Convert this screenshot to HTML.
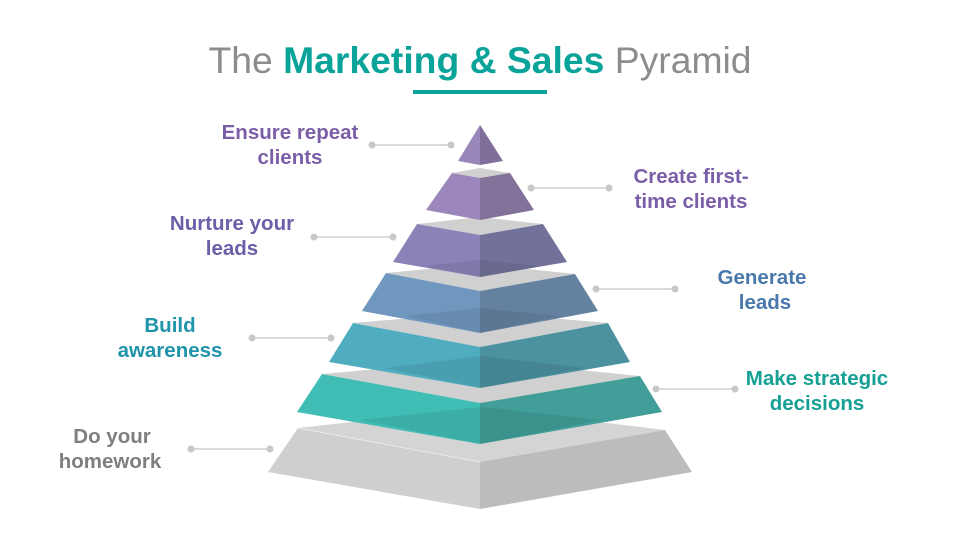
<!DOCTYPE html>
<html><head><meta charset="utf-8"><style>
html,body{margin:0;padding:0;background:#fff;width:960px;height:540px;overflow:hidden}
svg{display:block}
text{font-family:"Liberation Sans",Arial,sans-serif}
.l{font-size:20.5px;font-weight:bold;text-anchor:middle}
</style></head><body>
<svg width="960" height="540" viewBox="0 0 960 540">
<text x="480" y="73" text-anchor="middle" font-size="37.3" fill="#8c8c8c">The <tspan fill="#0aa39a" font-weight="bold">Marketing &amp; Sales</tspan> Pyramid</text>
<rect x="413" y="90" width="134" height="4" fill="#0aa39a"/>

<polygon points="298,428 480,408 665,430 480,462" fill="#d4d4d4"/>
<polygon points="298,428 480,462 480,509 268,472" fill="#cfcfcf"/>
<polygon points="480,462 665,430 692,472 480,509" fill="#bcbcbc"/>
<line x1="298" y1="428" x2="480" y2="462" stroke="#eee" stroke-width="0.8"/>
<polygon points="322,374 480,360 640,376 480,403" fill="#d0d0d0"/>
<polygon points="322,374 480,403 480,444 297,412" fill="#40bdb5"/>
<polygon points="480,403 640,376 662,412 480,444" fill="#419e98"/>
<polygon points="360,420 480,407 600,420 480,444" fill="#000" opacity="0.08"/>
<polygon points="353,323 480,312 608,323 480,347" fill="#d0d0d0"/>
<polygon points="353,323 480,347 480,388 329,362" fill="#50adbf"/>
<polygon points="480,347 608,323 630,362 480,388" fill="#4b91a0"/>
<polygon points="385,368 480,356 585,368 480,388" fill="#000" opacity="0.08"/>
<polygon points="386,273 480,264 575,274 480,291" fill="#d0d0d0"/>
<polygon points="386,273 480,291 480,333 362,311" fill="#7098bf"/>
<polygon points="480,291 575,274 598,311 480,333" fill="#6482a0"/>
<polygon points="405,316 480,308 560,316 480,333" fill="#000" opacity="0.08"/>
<polygon points="417,224 480,217 543,224 480,235" fill="#d0d0d0"/>
<polygon points="417,224 480,235 480,277 393,262" fill="#8a83b8"/>
<polygon points="480,235 543,224 567,262 480,277" fill="#72719a"/>
<polygon points="425,266 480,260 540,266 480,277" fill="#000" opacity="0.08"/>
<polygon points="452,173 480,168 510,173 480,178" fill="#d0d0d0"/>
<polygon points="452,173 480,178 480,220 426,210" fill="#9b87bb"/>
<polygon points="480,178 510,173 534,210 480,220" fill="#82729a"/>
<polygon points="480,125 480,165 458,161" fill="#9a87b9"/>
<polygon points="480,125 503,161 480,165" fill="#7f6d9a"/>

<g stroke="#cfcfcf" stroke-width="1.5" fill="#c8c8c8">
<line x1="372" y1="145" x2="451" y2="145"/><circle cx="372" cy="145" r="3.5" stroke="none"/><circle cx="451" cy="145" r="3.5" stroke="none"/>
<line x1="531" y1="188" x2="609" y2="188"/><circle cx="531" cy="188" r="3.5" stroke="none"/><circle cx="609" cy="188" r="3.5" stroke="none"/>
<line x1="314" y1="237" x2="393" y2="237"/><circle cx="314" cy="237" r="3.5" stroke="none"/><circle cx="393" cy="237" r="3.5" stroke="none"/>
<line x1="596" y1="289" x2="675" y2="289"/><circle cx="596" cy="289" r="3.5" stroke="none"/><circle cx="675" cy="289" r="3.5" stroke="none"/>
<line x1="252" y1="338" x2="331" y2="338"/><circle cx="252" cy="338" r="3.5" stroke="none"/><circle cx="331" cy="338" r="3.5" stroke="none"/>
<line x1="656" y1="389" x2="735" y2="389"/><circle cx="656" cy="389" r="3.5" stroke="none"/><circle cx="735" cy="389" r="3.5" stroke="none"/>
<line x1="191" y1="449" x2="270" y2="449"/><circle cx="191" cy="449" r="3.5" stroke="none"/><circle cx="270" cy="449" r="3.5" stroke="none"/>
</g>

<text class="l" x="290" y="139" fill="#7a5ea8">Ensure repeat</text>
<text class="l" x="290" y="164" fill="#7a5ea8">clients</text>
<text class="l" x="691" y="183" fill="#7a5ea8">Create first-</text>
<text class="l" x="691" y="208" fill="#7a5ea8">time clients</text>
<text class="l" x="232" y="230" fill="#6a5fa8">Nurture your</text>
<text class="l" x="232" y="255" fill="#6a5fa8">leads</text>
<text class="l" x="762" y="284" fill="#4a78ac">Generate</text>
<text class="l" x="765" y="309" fill="#4a78ac">leads</text>
<text class="l" x="170" y="332" fill="#1f94ab">Build</text>
<text class="l" x="170" y="357" fill="#1f94ab">awareness</text>
<text class="l" x="817" y="385" fill="#16a094">Make strategic</text>
<text class="l" x="817" y="410" fill="#16a094">decisions</text>
<text class="l" x="112" y="443" fill="#7f7f7f">Do your</text>
<text class="l" x="110" y="468" fill="#7f7f7f">homework</text>
</svg>
</body></html>
